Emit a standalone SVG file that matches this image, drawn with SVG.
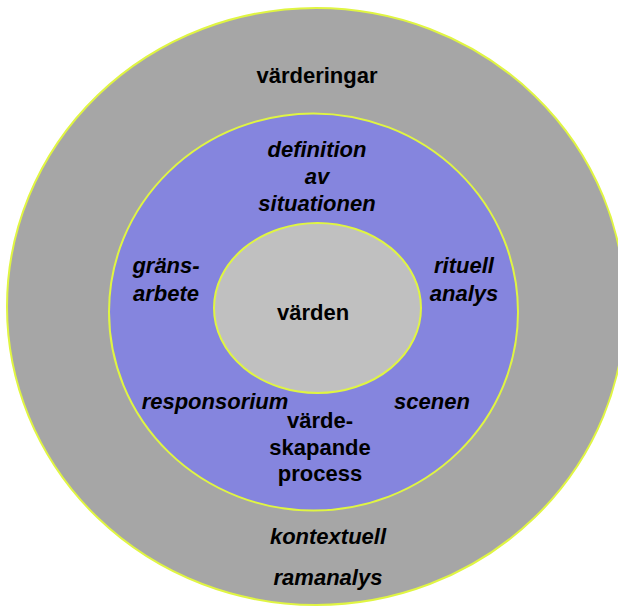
<svg xmlns="http://www.w3.org/2000/svg" width="618" height="607" viewBox="0 0 618 607">
<style>
.ring{stroke:#e0f542;stroke-width:2}
.t{font-family:"Liberation Sans",Arial,sans-serif;font-weight:bold;font-size:22px;fill:#000;text-anchor:middle}
.i{font-style:italic}
</style>
<rect width="618" height="607" fill="#ffffff"/>
<g id="outer">
<ellipse class="ring" cx="316" cy="306.5" rx="309" ry="298.5" fill="#a6a6a6"/>
<text class="t" x="317" y="83">värderingar</text>
<text class="t i" x="328" y="544">kontextuell</text>
<text class="t i" x="328" y="585">ramanalys</text>
</g>
<g id="middle">
<ellipse class="ring" cx="313.5" cy="312" rx="204.5" ry="198.5" fill="#8585de"/>
<text class="t i" x="317" y="157">definition</text>
<text class="t i" x="317" y="184">av</text>
<text class="t i" x="317" y="211">situationen</text>
<text class="t i" x="166" y="273">gräns-</text>
<text class="t i" x="166" y="301">arbete</text>
<text class="t i" x="464" y="273">rituell</text>
<text class="t i" x="464" y="301">analys</text>
<text class="t i" x="215" y="409">responsorium</text>
<text class="t i" x="432" y="409">scenen</text>
<text class="t" x="320" y="428">värde-</text>
<text class="t" x="320" y="455">skapande</text>
<text class="t" x="320" y="481">process</text>
</g>
<g id="inner">
<ellipse class="ring" cx="317.5" cy="308" rx="103.5" ry="85" fill="#c0c0c0"/>
<text class="t" x="313" y="320">värden</text>
</g>
<g id="connectors"/>
</svg>
